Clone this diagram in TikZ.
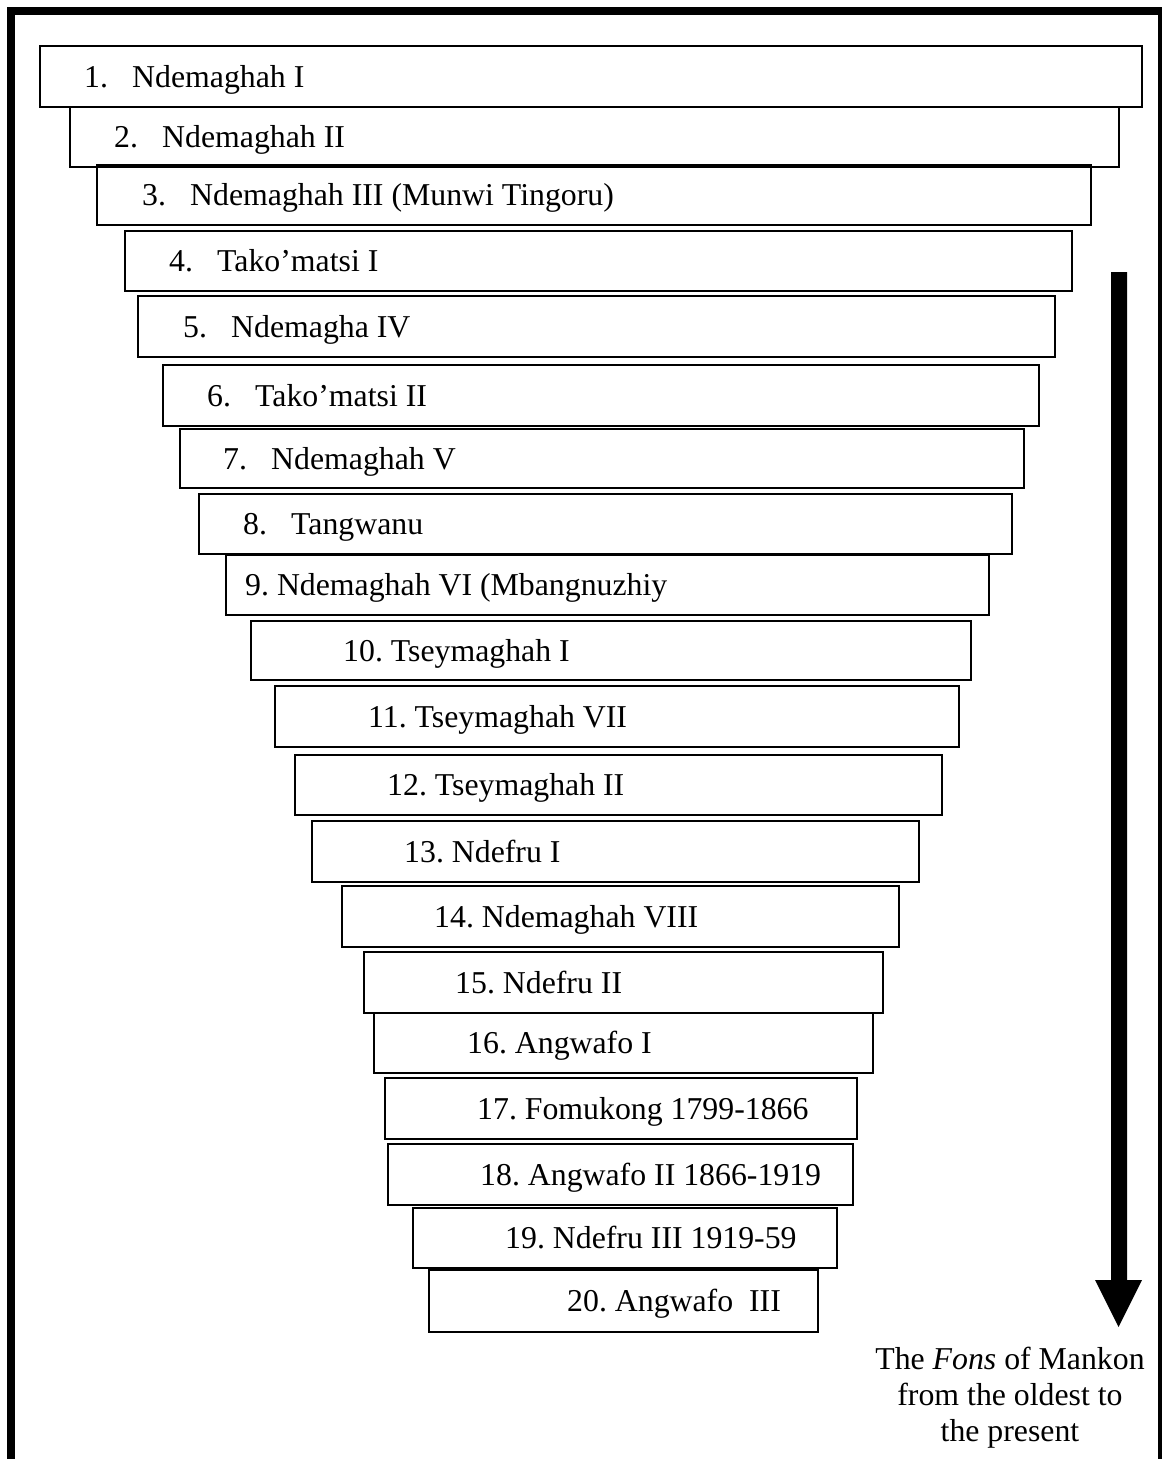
\documentclass[tikz,border=0pt]{standalone}
\usepackage{fontspec}
\setmainfont{Liberation Serif}
\frenchspacing
% numbered entry: number in a fixed-width slot, then the name
\newcommand{\fonentry}[2]{\makebox[48pt][l]{#1.}#2}
\begin{document}
\begin{tikzpicture}[x=1pt,y=-1pt,
  fonbox/.style={draw=black, line width=2.6pt, inner sep=0pt},
  fonlabel/.style={inner sep=0pt, anchor=base west, font=\fontsize{31.8}{36}\selectfont},
  caption/.style={inner sep=0pt, align=center, anchor=base, font=\fontsize{31.8}{36}\selectfont}]
\useasboundingbox (0,0) rectangle (1162,1459);

% page frame: heavy top and left rules, thin right rule
\fill[black] (7,7) rectangle (15,1459);
\fill[black] (7,7) rectangle (1162,15);
\fill[black] (1158,7) rectangle (1161.5,1459);

% the stacked boxes, one per Fon: name/left/top/right/bottom
\foreach \n/\l/\t/\r/\b in {
  1/40/46/1142/107, 2/70/107/1119/167, 3/97/165/1091/225, 4/125/231/1072/291,
  5/138/296/1055/357, 6/163/365/1039/426, 7/180/429/1024/488, 8/199/494/1012/554,
  9/226/555/989/615, 10/251/621/971/680, 11/275/686/959/747, 12/295/755/942/815,
  13/312/821/919/882, 14/342/886/899/947, 15/364/952/883/1013, 16/374/1013/873/1073,
  17/385/1078/857/1139, 18/388/1144/853/1205, 19/413/1208/837/1268, 20/429/1270/818/1332}
{
  \node[fonbox, minimum width={(\r-\l)*1pt}, minimum height={(\b-\t)*1pt}]
    (b\n) at ({(\l+\r)/2},{(\t+\b)/2}) {};
}

% box labels, placed on the baseline inside each box
\foreach \n/\x/\txt in {
  1/84/{\fonentry{1}{Ndemaghah I}},
  2/114/{\fonentry{2}{Ndemaghah II}},
  3/142/{\fonentry{3}{Ndemaghah III (Munwi Tingoru)}},
  4/169/{\fonentry{4}{Tako’matsi I}},
  5/183/{\fonentry{5}{Ndemagha IV}},
  6/207/{\fonentry{6}{Tako’matsi II}},
  7/223/{\fonentry{7}{Ndemaghah V}},
  8/243/{\fonentry{8}{Tangwanu}},
  9/245/{9. Ndemaghah VI (Mbangnuzhiy},
  10/343/{10. Tseymaghah I},
  11/368/{11. Tseymaghah VII},
  12/387/{12. Tseymaghah II},
  13/404/{13. Ndefru I},
  14/434/{14. Ndemaghah VIII},
  15/455/{15. Ndefru II},
  16/467/{16. Angwafo I},
  17/477/{17. Fomukong 1799-1866},
  18/480/{18. Angwafo II 1866-1919},
  19/505/{19. Ndefru III 1919-59},
  20/567/{20. Angwafo\ \ III}}
{
  \path (b\n.center) ++(0,10.5) coordinate (base\n);
  \node[fonlabel] (t\n) at (\x,0 |- base\n) {\txt};
}

% downward arrow: oldest at the top, present at the bottom
\coordinate (arrowtop) at (1119,272);
\coordinate (arrowtip) at (1118.5,1327);
\fill[black] (arrowtop) ++(-8,0) -- ++(16,0) -- (1127,1280) -- (1142,1280)
  -- (arrowtip) -- (1095,1280) -- (1111,1280) -- cycle;

% caption under the arrow (anchored on the baseline of its last line)
\node[caption] (note) at (1010,1441)
  {The \textit{Fons} of Mankon\\from the oldest to\\the present};
\end{tikzpicture}
\end{document}
